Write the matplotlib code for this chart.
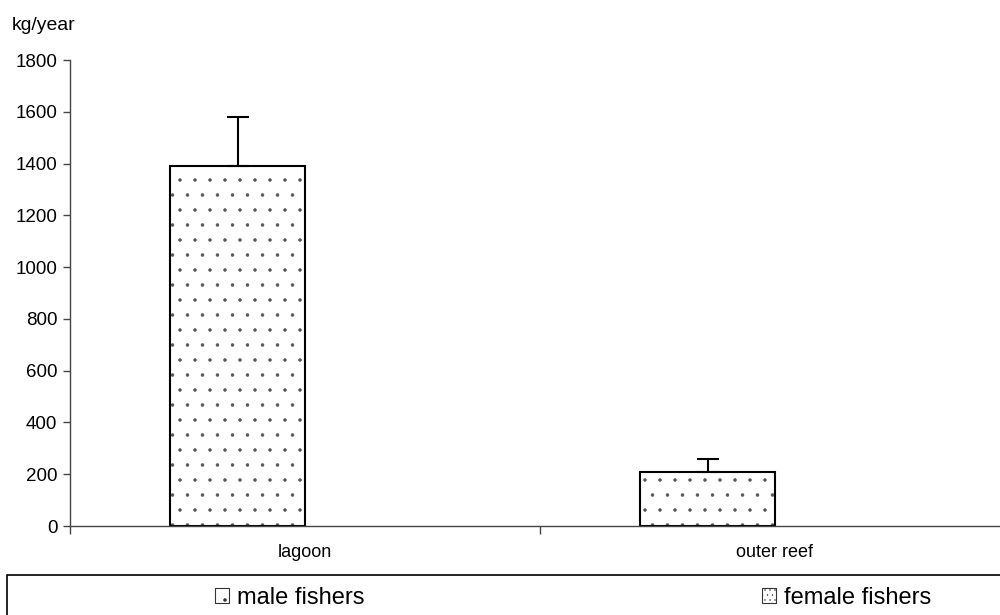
import numpy as np
import matplotlib
matplotlib.use("Agg")
import matplotlib.pyplot as plt
from matplotlib.patches import Patch, Rectangle

plt.rcParams['font.family'] = ['Liberation Sans', 'DejaVu Sans']
plt.rcParams['hatch.linewidth'] = 0.35

# --- datos ---
categories = ['lagoon', 'outer reef']
male = [1390, 208]
male_err = [190, 50]
female = [0, 0]
yticks = [0, 200, 400, 600, 800, 1000, 1200, 1400, 1600, 1800]

# dpi 90 -> trama de puntos con paso ~15 px como en el original
DPI = 90
k = 100 / DPI  # factor para mantener tamaños en píxeles
fig = plt.figure(figsize=(1000 / DPI, 615 / DPI), dpi=DPI)
ax = fig.add_axes([0.07, 0.1447, 0.94, 0.7577])

x = np.arange(len(categories))
w = 0.287
# relleno punteado gris + borde negro encima
ax.bar(x - w/2, male, width=w, color='white', edgecolor='#555555',
       hatch='.', linewidth=0, zorder=2)
ax.bar(x - w/2, male, width=w, fill=False, edgecolor='black',
       linewidth=1.5*k, zorder=2.5)
ax.errorbar(x - w/2, male, yerr=[np.zeros(len(male)), male_err], fmt='none',
            ecolor='black', elinewidth=1.5*k, capsize=8*k, capthick=1.5*k, zorder=3)
ax.bar(x + w/2, female, width=w, color='white', edgecolor='black',
       hatch='...', linewidth=0, zorder=2)

ax.set_xlim(-0.5, 1.5)
ax.set_ylim(0, 1800)
ax.set_yticks(yticks)
ax.tick_params(axis='y', labelsize=13.5*k, length=5*k, width=1*k, color='#444444', pad=4*k)

# ticks en los bordes de categoría, etiquetas al centro
ax.set_xticks([-0.5, 0.5, 1.5])
ax.set_xticklabels([])
ax.set_xticks(x, minor=True)
ax.set_xticklabels(categories, minor=True, fontsize=13*k)
ax.tick_params(axis='x', which='major', length=6*k, width=1*k, color='#444444')
ax.tick_params(axis='x', which='minor', length=0, pad=13*k)

for s in ['top', 'right']:
    ax.spines[s].set_visible(False)
for s in ['left', 'bottom']:
    ax.spines[s].set_color('#444444')
    ax.spines[s].set_linewidth(1*k)

fig.text(0.012, 0.958, 'kg/year', fontsize=14*k, ha='left', va='center')

# --- leyenda con marco ---
fig.add_artist(Rectangle((0.007, -0.05), 1.05, 0.115, transform=fig.transFigure,
                         fill=False, edgecolor='black', linewidth=1.2*k))
h_male = Patch(facecolor='white', edgecolor='#333333', hatch='.', linewidth=0.8*k, label='male fishers')
h_female = Patch(facecolor='white', edgecolor='#333333', hatch='...', linewidth=0.8*k, label='female fishers')
for h, xpos in [(h_male, 0.215), (h_female, 0.762)]:
    fig.legend(handles=[h], loc='center left', bbox_to_anchor=(xpos, 0.028),
               frameon=False, fontsize=17*k, handlelength=0.6, handleheight=0.6,
               handletextpad=0.35, borderpad=0, borderaxespad=0)

fig.savefig('out.png', dpi=DPI)
